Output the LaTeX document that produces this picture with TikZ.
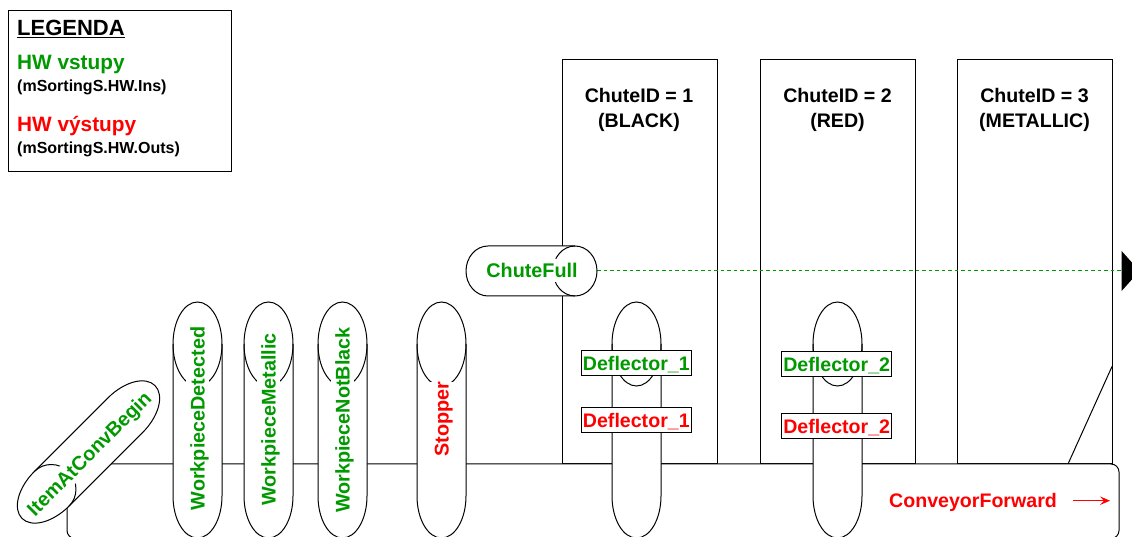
\documentclass[tikz,border=0pt]{standalone}
\usepackage{fontspec}
\setmainfont{Liberation Sans}
\usetikzlibrary{arrows.meta}
\definecolor{hwgreen}{HTML}{009900}
\definecolor{hwred}{HTML}{FF0000}
\newcommand{\fsz}[1]{\fontsize{#1}{#1}\selectfont\bfseries}
% cx, cy, half length, rotation, a, b, inner arc b
\newcommand{\capsule}[7]{%
  \begin{scope}[shift={(#1,#2)},rotate=#4]
    \draw[shell] (-#5,#3-#6) arc[start angle=180,end angle=0,x radius=#5pt,y radius=#6pt]
      -- (#5,-#3+#6) arc[start angle=0,end angle=-180,x radius=#5pt,y radius=#6pt] -- cycle;
    \draw[shell,fill=none] (-#5,#3-#6) arc[start angle=180,end angle=360,x radius=#5pt,y radius=#7pt];
  \end{scope}}
\tikzset{
  x=1pt,y=1pt,
  shell/.style={draw=black,fill=white,line width=1pt},
  chutebox/.style={draw=black,fill=white,line width=1pt},
  senslabel/.style={text=hwgreen,font=\fsz{19.8},fill=white,inner xsep=0pt,inner ysep=0pt,minimum height=23pt,text height=16pt,text depth=2pt},
  actlabel/.style={senslabel,text=hwred},
  boxlabel/.style={draw=black,fill=white,line width=1pt,font=\fsz{19.6},inner sep=0pt,minimum width=110.5pt,minimum height=25pt,text height=16pt,text depth=2pt},
  chutetitle/.style={font=\fsz{19.6},align=center,text=black,inner sep=0pt},
  legend/.style={anchor=west,inner sep=0pt},
}
\begin{document}
\begin{tikzpicture}
\useasboundingbox (0,0) rectangle (1132,537);
\clip (0,0) rectangle (1132,537);
% legend
\draw[line width=1pt,fill=white] (8,365) rectangle (231,526);
\node[legend,font=\fsz{22}] (legtitle) at (17,508) {\underline{LEGENDA}};
\node[legend,font=\fsz{20.8},text=hwgreen] (legin) at (17,472) {HW vstupy};
\node[legend,font=\fsz{16},text=black] (leginname) at (17,449.5) {(mSortingS.HW.Ins)};
\node[legend,font=\fsz{20.8},text=hwred] (legout) at (17,411) {HW výstupy};
\node[legend,font=\fsz{16},text=black] (legoutname) at (17,387.5) {(mSortingS.HW.Outs)};
% chutes
\draw[chutebox] (562.5,73) rectangle (717,477);
\draw[chutebox] (760,73) rectangle (915,477);
\draw[chutebox] (957,73) rectangle (1112,477);
\node[chutetitle] (chute1) at (639,427.5) {ChuteID = 1\\[5.5pt](BLACK)};
\node[chutetitle] (chute2) at (837.5,427.5) {ChuteID = 2\\[5.5pt](RED)};
\node[chutetitle] (chute3) at (1034.5,427.5) {ChuteID = 3\\[5.5pt](METALLIC)};
% diagonal and conveyor
\coordinate (diagA) at (1068,73);
\coordinate (diagB) at (1112,170.5);
\draw[line width=1pt] (diagA) -- (diagB);
\draw[line width=1pt,fill=white,rounded corners=8pt] (67,-1.5) rectangle (1119,73);
\node[font=\fsz{19.6},text=hwred,inner sep=0pt] (conv) at (973,34.5) {ConveyorForward};
\coordinate (convA) at (1073,36.3);
\coordinate (convB) at (1110,36.3);
\draw[hwred,line width=1pt,-{Stealth[length=10pt,width=8.5pt,inset=4pt]}] (convA) -- (convB);
% dashed connector
\coordinate (cfR) at (597,266);
\coordinate (cfEnd) at (1139.5,266);
\draw[hwgreen,line width=1pt,dash pattern=on 3.5pt off 3pt,-{Triangle[length=18pt,width=40pt,color=black,fill=black]}] (cfR) -- (cfEnd);
% capsules
\capsule{88.5}{85}{94}{135}{24.5}{42}{24}
\node[senslabel,rotate=45] (item) at (89,83.5) {ItemAtConvBegin};
\capsule{197.5}{117}{118}{0}{24.5}{42}{42}
\node[senslabel,rotate=90] (wdet) at (197.5,118.5) {WorkpieceDetected};
\capsule{268.5}{117}{118}{0}{24.5}{42}{42}
\node[senslabel,rotate=90] (wmet) at (268.5,117.5) {WorkpieceMetallic};
\capsule{342.5}{117}{118}{0}{24.5}{42}{42}
\node[senslabel,rotate=90] (wnb) at (342.5,117) {WorkpieceNotBlack};
\capsule{441.5}{117}{118}{0}{24.5}{42}{42}
\node[actlabel,rotate=90] (stop) at (441.5,118) {Stopper};
\capsule{636.5}{117}{118}{0}{24.5}{42}{42}
\node[boxlabel,text=hwgreen] (d1in) at (636.3,173.8) {Deflector\_1};
\node[boxlabel,text=hwred] (d1out) at (636.3,116.8) {Deflector\_1};
\capsule{837.5}{117}{118}{0}{24.5}{42}{42}
\node[boxlabel,text=hwgreen] (d2in) at (836.7,172.8) {Deflector\_2};
\node[boxlabel,text=hwred] (d2out) at (836.7,110.7) {Deflector\_2};
\capsule{531.5}{266}{65.5}{-90}{25}{22}{22}
\node[senslabel] (cfull) at (532,266) {ChuteFull};
\end{tikzpicture}
\end{document}
